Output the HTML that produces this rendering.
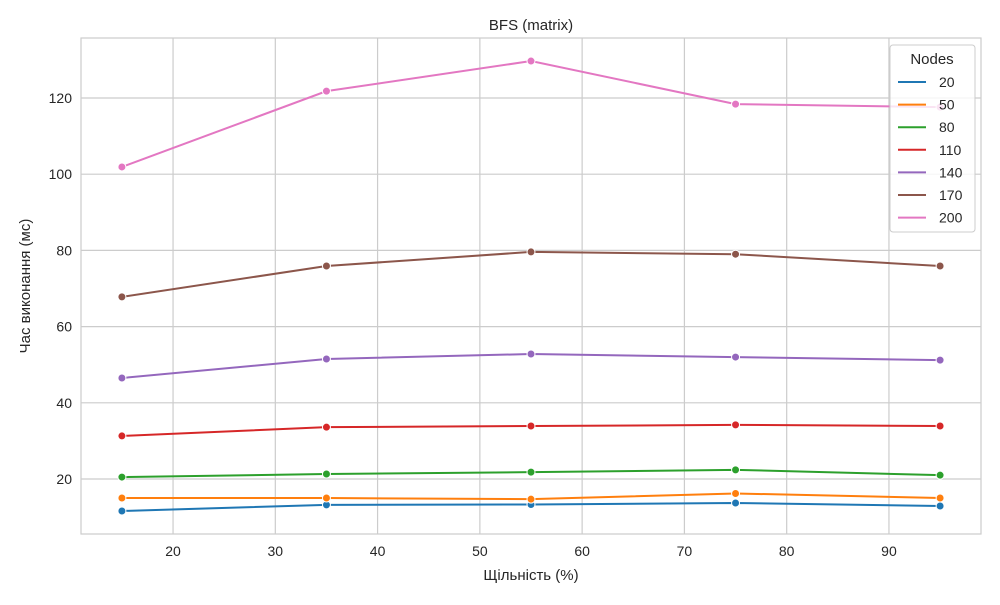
<!DOCTYPE html>
<html><head><meta charset="utf-8"><style>
body{margin:0;background:#fff;font-family:"Liberation Sans","DejaVu Sans",sans-serif}
</style></head><body>
<svg id="chart" width="1000" height="600" xmlns="http://www.w3.org/2000/svg" font-family="Liberation Sans, DejaVu Sans, sans-serif">
<text x="531" y="30" font-size="15" text-anchor="middle" fill="#262626">BFS (matrix)</text>
<g id="grid"></g>
<rect x="81" y="38" width="900" height="496" fill="none" stroke="#cccccc" stroke-width="1.2"/>
<g id="xticks"></g><g id="yticks"></g>
<g id="series"></g>
<text x="531" y="580" font-size="15" text-anchor="middle" fill="#262626">Щільність (%)</text>
<text transform="translate(30,286) rotate(-90)" font-size="15" text-anchor="middle" fill="#262626">Час виконання (мс)</text>
<g id="legend"></g>
</svg>
<script>
const densities=[15,35,55,75,95];
const nodes=["20","50","80","110","140","170","200"];
const s20=[11.6,13.2,13.3,13.7,12.9];
const s50=[15.0,15.0,14.7,16.2,15.0];
const s80=[20.5,21.3,21.8,22.4,21.0];
const s110=[31.3,33.6,33.9,34.2,33.9];
const s140=[46.5,51.5,52.8,52.0,51.2];
const s170=[67.8,75.9,79.6,79.0,75.9];
const s200=[101.9,121.8,129.7,118.4,117.6];
const xTicks=[20,30,40,50,60,70,80,90];
const yTicks=[20,40,60,80,100,120];
const series=[s20,s50,s80,s110,s140,s170,s200];
const colors=["#1f77b4","#ff7f0e","#2ca02c","#d62728","#9467bd","#8c564b","#e377c2"];
const X=v=>81+(v-11)*900/88;
const Y=v=>534-(v-5.56)*496/(135.75-5.56);
const NS="http://www.w3.org/2000/svg";
function mk(t,a,p){const e=document.createElementNS(NS,t);for(const k in a)e.setAttribute(k,a[k]);p.appendChild(e);return e;}
const g=document.getElementById('grid'),xt=document.getElementById('xticks'),yt=document.getElementById('yticks');
xTicks.forEach(v=>{const l=mk('line',{x1:X(v),x2:X(v),y1:38,y2:534,stroke:'#cccccc','stroke-width':1.2},g);


const t=mk('text',{x:X(v),y:556,'font-size':14,'text-anchor':'middle',fill:'#262626'},xt);t.textContent=v;

});
yTicks.forEach(v=>{const l=mk('line',{x1:81,x2:981,y1:Y(v),y2:Y(v),stroke:'#cccccc','stroke-width':1.2},g);


const t=mk('text',{x:72,y:Y(v)+5,'font-size':14,'text-anchor':'end',fill:'#262626'},yt);t.textContent=v;

});
const sg=document.getElementById('series');
series.forEach((s,i)=>{const pts=s.map((v,j)=>X(densities[j])+','+Y(v)).join(' ');
const pl=mk('polyline',{points:pts,fill:'none',stroke:colors[i],'stroke-width':2},sg);


s.forEach((v,j)=>{const c=mk('circle',{cx:X(densities[j]),cy:Y(v),r:4,fill:colors[i],stroke:'#fff','stroke-width':1},sg);

});});
const lg=document.getElementById('legend');
const box=mk('rect',{x:890,y:45,width:85,height:187,rx:3,fill:'#fff','fill-opacity':0.8,stroke:'#cccccc'},lg);


const tt=mk('text',{x:932,y:64,'font-size':15,'text-anchor':'middle',fill:'#262626'},lg);tt.textContent='Nodes';


nodes.forEach((n,i)=>{const y=82+i*22.6;
const l=mk('line',{x1:898,x2:926,y1:y,y2:y,stroke:colors[i],'stroke-width':2},lg);


const t=mk('text',{x:939,y:y+5,'font-size':14,fill:'#262626'},lg);t.textContent=n;

});
</script>
</body></html>
